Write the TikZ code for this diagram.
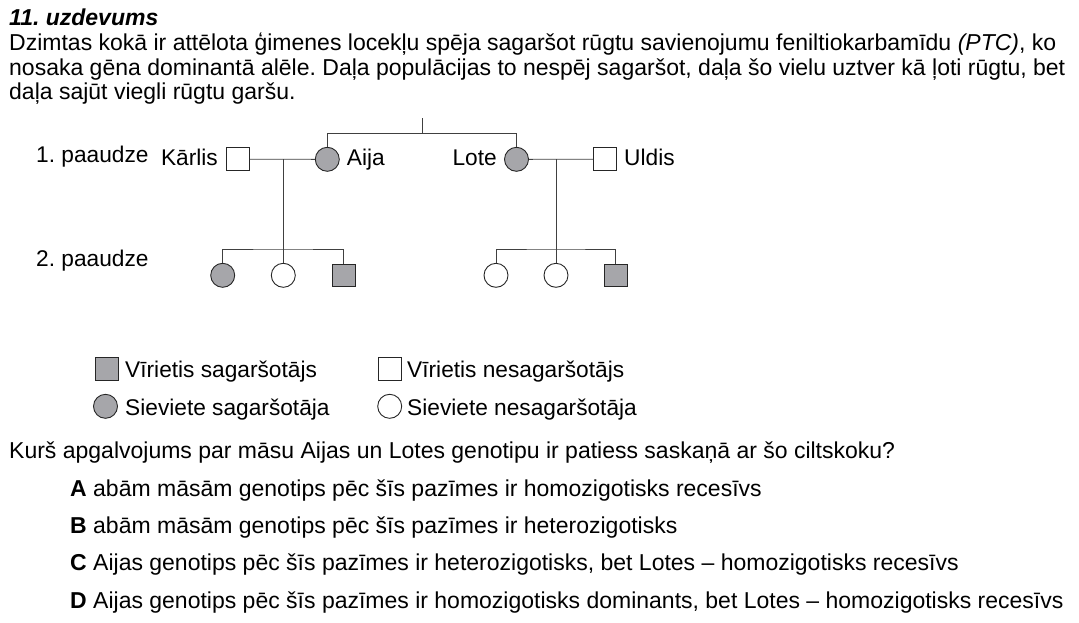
\documentclass[tikz,border=0pt]{standalone}
\usepackage{fontspec}
\setmainfont{Liberation Sans}
\definecolor{shade}{RGB}{166,166,170}
\definecolor{linec}{RGB}{64,64,64}
\frenchspacing
\begin{document}
\begin{tikzpicture}[x=1pt,y=-1pt,
  body/.style={anchor=base west,inner sep=0pt,font=\fontsize{23}{24}\selectfont},
  lab/.style={inner sep=0pt,font=\fontsize{22.7}{24}\selectfont},
  male/.style={draw=black!85,line width=0.9pt,minimum size=22.7pt,inner sep=0pt,rectangle},
  female/.style={draw=black!85,line width=0.9pt,minimum size=24pt,inner sep=0pt,circle},
  aff/.style={fill=shade},
  unaff/.style={fill=white},
  link/.style={draw=linec,line width=0.9pt}]
\useasboundingbox (0,0) rectangle (1079,622);
% header text
\node[body,font=\fontsize{23}{24}\selectfont\bfseries\itshape] (title) at (9,25) {11. uzdevums};
\node[body] (l1) at (9,50.7) {Dzimtas kokā ir attēlota ģimenes locekļu spēja sagaršot rūgtu savienojumu feniltiokarbamīdu \textit{(PTC)}, ko};
\node[body] (l2) at (9,75.2) {nosaka gēna dominantā alēle. Daļa populācijas to nespēj sagaršot, daļa šo vielu uztver kā ļoti rūgtu, bet};
\node[body] (l3) at (9,99.5) {daļa sajūt viegli rūgtu garšu.};
% generation labels
\node[lab,anchor=base west] (g1) at (36,162.7) {1. paaudze};
\node[lab,anchor=base west] (g2) at (36,266.7) {2. paaudze};
% generation 1
\node[male,unaff] (karlis) at (238,159.2) {};
\node[female,aff] (aija) at (327.3,159.3) {};
\node[female,aff] (lote) at (516.5,159.3) {};
\node[male,unaff] (uldis) at (605.2,159.2) {};
\node[lab,anchor=base east] (tkarlis) at (218,165.7) {Kārlis};
\node[lab,anchor=base west] (taija) at (346.7,165.7) {Aija};
\node[lab,anchor=base east] (tlote) at (497,165.7) {Lote};
\node[lab,anchor=base west] (tuldis) at (624,165.7) {Uldis};
% parents of sisters
\coordinate (ptop) at (422,118);
\coordinate (pjoin) at (422,133.3);
\draw[link] (ptop) -- (pjoin);
\draw[link] (aija.north) |- (pjoin) -| (lote.north);
% marriages
\draw[link] (karlis.east) -- (aija.west);
\draw[link] (lote.east) -- (uldis.west);
\coordinate (m1) at (283.3,159.3);
\coordinate (s1) at (283.3,249);
\coordinate (m2) at (556,159.3);
\coordinate (s2) at (556,249);
\draw[link] (m1) -- (s1);
\draw[link] (m2) -- (s2);
% generation 2 left
\node[female,aff] (c11) at (222.7,275.3) {};
\node[female,unaff] (c12) at (283.3,275.3) {};
\node[male,aff] (c13) at (343.7,275.3) {};
\draw[link] (c11.north) |- (s1) -| (c13.north);
\draw[link] (s1) -- (c12.north);
% generation 2 right
\node[female,unaff] (c21) at (496,275.3) {};
\node[female,unaff] (c22) at (556,275.3) {};
\node[male,aff] (c23) at (615.8,275.3) {};
\draw[link] (c21.north) |- (s2) -| (c23.north);
\draw[link] (s2) -- (c22.north);
% legend
\node[male,aff] (k1) at (107,368.7) {};
\node[lab,anchor=base west] (k1t) at (125,377.3) {Vīrietis sagaršotājs};
\node[male,unaff] (k2) at (389.7,368.7) {};
\node[lab,anchor=base west] (k2t) at (407,377.3) {Vīrietis nesagaršotājs};
\node[female,aff] (k3) at (105.5,406.3) {};
\node[lab,anchor=base west] (k3t) at (125,415) {Sieviete sagaršotāja};
\node[female,unaff] (k4) at (389.7,406.3) {};
\node[lab,anchor=base west] (k4t) at (407,415) {Sieviete nesagaršotāja};
% question
\node[body] (q) at (9,458.3) {Kurš apgalvojums par māsu Aijas un Lotes genotipu ir patiess saskaņā ar šo ciltskoku?};
\node[body] (oa) at (70,496.7) {\textbf{A} abām māsām genotips pēc šīs pazīmes ir homozigotisks recesīvs};
\node[body] (ob) at (70,533.3) {\textbf{B} abām māsām genotips pēc šīs pazīmes ir heterozigotisks};
\node[body] (oc) at (70,570) {\textbf{C} Aijas genotips pēc šīs pazīmes ir heterozigotisks, bet Lotes -- homozigotisks recesīvs};
\node[body] (od) at (70,608.3) {\textbf{D} Aijas genotips pēc šīs pazīmes ir homozigotisks dominants, bet Lotes -- homozigotisks recesīvs};
\end{tikzpicture}
\end{document}
